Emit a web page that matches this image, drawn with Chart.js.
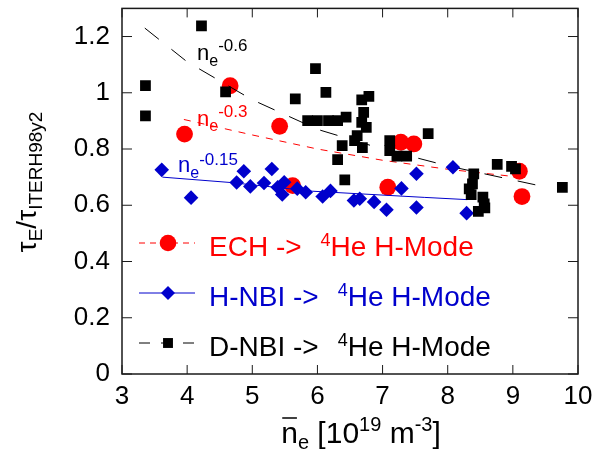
<!DOCTYPE html>
<html>
<head>
<meta charset="utf-8">
<script src="https://cdn.jsdelivr.net/npm/chart.js@4.4.0/dist/chart.umd.min.js"></script>
<style>
  body { margin: 0; background: #fff; }
  #wrap { width: 592px; height: 456px; position: relative; }
</style>
</head>
<body>
<div id="wrap"><canvas id="tauChart"></canvas></div>
<script>
// ECH -> 4He H-Mode (red circles)
const echDensity = [3.96, 4.66, 5.42, 5.62, 7.08, 7.28, 7.48, 9.10, 9.14];
const echTau     = [0.853, 1.025, 0.881, 0.670, 0.664, 0.824, 0.818, 0.721, 0.631];

// H-NBI -> 4He H-Mode (blue diamonds)
const hnbiDensity = [3.61, 4.06, 4.76, 4.87, 4.97, 5.18, 5.30, 5.39, 5.46, 5.49, 5.69, 5.82,
                     6.08, 6.20, 6.56, 6.65, 6.87, 7.06, 7.29, 7.52, 7.52, 8.08, 8.29];
const hnbiTau     = [0.726, 0.627, 0.681, 0.721, 0.667, 0.679, 0.729, 0.664, 0.638, 0.682, 0.659, 0.646,
                     0.631, 0.651, 0.617, 0.623, 0.612, 0.584, 0.660, 0.712, 0.592, 0.735, 0.572];

// D-NBI -> 4He H-Mode (black squares)
const dnbiDensity = [3.36, 3.36, 4.22, 4.59, 5.66, 5.97, 6.13, 6.68, 6.79, 6.71, 6.44, 5.85, 6.00, 6.17,
                     6.31, 6.68, 6.75, 6.61, 6.57, 6.69, 6.38, 6.31, 6.42, 7.11, 7.11, 7.22, 7.37, 7.70,
                     8.40, 8.38, 8.33, 8.36, 8.54, 8.56, 8.57, 8.47, 8.76, 8.98, 9.04, 9.76];
const dnbiTau     = [1.025, 0.918, 1.238, 1.003, 0.978, 1.086, 1.001, 0.975, 0.987, 0.930, 0.913, 0.901, 0.901, 0.901,
                     0.901, 0.895, 0.877, 0.848, 0.830, 0.805, 0.812, 0.762, 0.690, 0.830, 0.794, 0.775, 0.775, 0.855,
                     0.712, 0.676, 0.658, 0.638, 0.629, 0.605, 0.591, 0.578, 0.745, 0.738, 0.729, 0.664];

// scaling fits
const fitDDensity = [3.35, 4, 5, 6, 7, 8, 9, 9.5];
const fitDTau     = [1.23, 1.11, 0.975, 0.87, 0.80, 0.74, 0.69, 0.665];
const fitEDensity = [3.95, 5, 6, 7, 8, 9.1];
const fitETau     = [0.905, 0.85, 0.80, 0.76, 0.728, 0.70];
const fitHDensity = [3.62, 4.66, 5.92, 7.64, 8.3];
const fitHTau     = [0.700, 0.681, 0.650, 0.628, 0.620];

const xTicks = [3, 4, 5, 6, 7, 8, 9, 10];
const yTicks = [0, 0.2, 0.4, 0.6, 0.8, 1, 1.2];

const FONT = "'Liberation Sans', Arial, sans-serif";
const RED = '#ff0000';
const BLUE = '#0000cc';

const pts = (xs, ys) => xs.map((x, i) => ({ x: x, y: ys[i] }));

// draw text made of pieces: [text, size, dy, dx]
function richText(ctx, parts, x, y, align) {
  let w = 0;
  parts.forEach(p => {
    ctx.font = p[1] + 'px ' + FONT;
    w += ctx.measureText(p[0]).width + (p[3] || 0);
  });
  let cx = align === 'center' ? x - w / 2 : x;
  const starts = [];
  parts.forEach(p => {
    ctx.font = p[1] + 'px ' + FONT;
    cx += p[3] || 0;
    starts.push(cx);
    ctx.fillText(p[0], cx, y + (p[2] || 0));
    cx += ctx.measureText(p[0]).width;
  });
  return starts;
}

const decorations = {
  id: 'decorations',
  afterDatasetsDraw(chart) {
    const { ctx, chartArea: a, scales: { x, y } } = chart;
    ctx.save();

    // frame + inward ticks on all four sides
    ctx.strokeStyle = '#1a1a1a';
    ctx.lineWidth = 1.5;
    ctx.strokeRect(a.left, a.top, a.right - a.left, a.bottom - a.top);
    ctx.lineWidth = 1;
    ctx.beginPath();
    xTicks.forEach(v => {
      const px = x.getPixelForValue(v);
      ctx.moveTo(px, a.bottom); ctx.lineTo(px, a.bottom - 9);
      ctx.moveTo(px, a.top); ctx.lineTo(px, a.top + 9);
    });
    yTicks.forEach(v => {
      const py = y.getPixelForValue(v);
      ctx.moveTo(a.left, py); ctx.lineTo(a.left + 10, py);
      ctx.moveTo(a.right, py); ctx.lineTo(a.right - 10, py);
    });
    ctx.stroke();

    ctx.textBaseline = 'alphabetic';
    ctx.textAlign = 'left';

    // fit labels
    ctx.fillStyle = '#000';
    richText(ctx, [['n', 22], ['e', 16, 6], ['-0.6', 17, -9]], 197, 60);
    ctx.fillStyle = RED;
    richText(ctx, [['n', 22], ['e', 16, 5], ['-0.3', 17, -9]], 197, 126);
    ctx.fillStyle = BLUE;
    richText(ctx, [['n', 22], ['e', 16, 6], ['-0.15', 17, -7]], 178, 172);

    // legend
    const rows = [
      { name: 'ECH', color: RED, style: 'circle', r: 8.3, dash: [6, 5], y: 243 },
      { name: 'H-NBI', color: BLUE, style: 'rectRot', r: 7, dash: [], y: 293 },
      { name: 'D-NBI', color: '#000', style: 'rect', r: 7, dash: [11, 11], y: 343 }
    ];
    rows.forEach(r => {
      ctx.strokeStyle = r.color;
      ctx.lineWidth = 1;
      ctx.setLineDash(r.dash);
      ctx.beginPath();
      ctx.moveTo(139, r.y); ctx.lineTo(195, r.y);
      ctx.stroke();
      ctx.setLineDash([]);
      ctx.fillStyle = r.color;
      Chart.helpers.drawPoint(ctx, { pointStyle: r.style, radius: r.r, rotation: 0, borderWidth: 0 }, 168, r.y);
      richText(ctx, [[r.name + ' ->', 28], ['4', 18, -10, 19], ['He H-Mode', 28]], 209, r.y + 13);
    });

    // axis titles
    ctx.fillStyle = '#000';
    const st = richText(ctx, [['n', 30], ['e', 20, 6], [' [10', 30], ['19', 20, -12], [' m', 30], ['-3', 20, -12], [']', 30]], 361, 443, 'center');
    ctx.font = '30px ' + FONT;
    const nw = ctx.measureText('n').width;
    ctx.strokeStyle = '#000';
    ctx.lineWidth = 1.5;
    ctx.beginPath();
    ctx.moveTo(st[0] + 1, 418); ctx.lineTo(st[0] + nw - 1, 418);
    ctx.stroke();

    ctx.translate(36, 182);
    ctx.rotate(-Math.PI / 2);
    richText(ctx, [['\u03c4', 28], ['E', 19, 6], ['/\u03c4', 28], ['ITERH98y2', 19, 6]], 0, 0, 'center');

    ctx.restore();
  }
};

new Chart(document.getElementById('tauChart'), {
  type: 'scatter',
  data: {
    datasets: [
      {
        label: 'D-NBI -> 4He H-Mode',
        data: pts(dnbiDensity, dnbiTau),
        pointStyle: 'rect', pointRadius: 7.6,
        pointBackgroundColor: '#000', pointBorderWidth: 0,
        order: 0
      },
      {
        label: 'H-NBI -> 4He H-Mode',
        data: pts(hnbiDensity, hnbiTau),
        pointStyle: 'rectRot', pointRadius: 7.3,
        pointBackgroundColor: BLUE, pointBorderWidth: 0,
        order: 1
      },
      {
        label: 'ECH -> 4He H-Mode',
        data: pts(echDensity, echTau),
        pointStyle: 'circle', pointRadius: 8.4,
        pointBackgroundColor: RED, pointBorderWidth: 0,
        order: 3
      },
      {
        label: 'fit D-NBI',
        data: pts(fitDDensity, fitDTau),
        showLine: true, borderColor: '#000', borderWidth: 1, borderDash: [18, 16],
        pointRadius: 0, order: 2
      },
      {
        label: 'fit H-NBI',
        data: pts(fitHDensity, fitHTau),
        showLine: true, borderColor: BLUE, borderWidth: 1,
        pointRadius: 0, order: 2
      },
      {
        label: 'fit ECH',
        data: pts(fitEDensity, fitETau),
        showLine: true, borderColor: RED, borderWidth: 1, borderDash: [7, 7],
        pointRadius: 0, order: 4
      }
    ]
  },
  options: {
    responsive: true,
    maintainAspectRatio: false,
    animation: false,
    events: [],
    layout: { padding: { left: 0, right: 14, top: 7, bottom: 0 } },
    plugins: { legend: { display: false }, tooltip: { enabled: false } },
    scales: {
      x: {
        type: 'linear', min: 3, max: 10,
        afterBuildTicks: s => { s.ticks = xTicks.map(v => ({ value: v })); },
        afterFit: s => { s.height = 82; s.paddingLeft = 0; s.paddingRight = 0; },
        grid: { display: false, drawTicks: false },
        border: { display: false },
        ticks: { padding: 7, color: '#000', font: { family: FONT, size: 26 }, maxRotation: 0 }
      },
      y: {
        type: 'linear', min: 0, max: 1.3,
        afterBuildTicks: s => { s.ticks = yTicks.map(v => ({ value: v })); },
        afterFit: s => { s.width = 122; s.paddingTop = 0; s.paddingBottom = 0; },
        grid: { display: false, drawTicks: false },
        border: { display: false },
        ticks: {
          padding: 12, color: '#000', font: { family: FONT, size: 26 },
          callback: v => String(Math.round(v * 10) / 10)
        }
      }
    }
  },
  plugins: [decorations]
});
</script>
</body>
</html>
